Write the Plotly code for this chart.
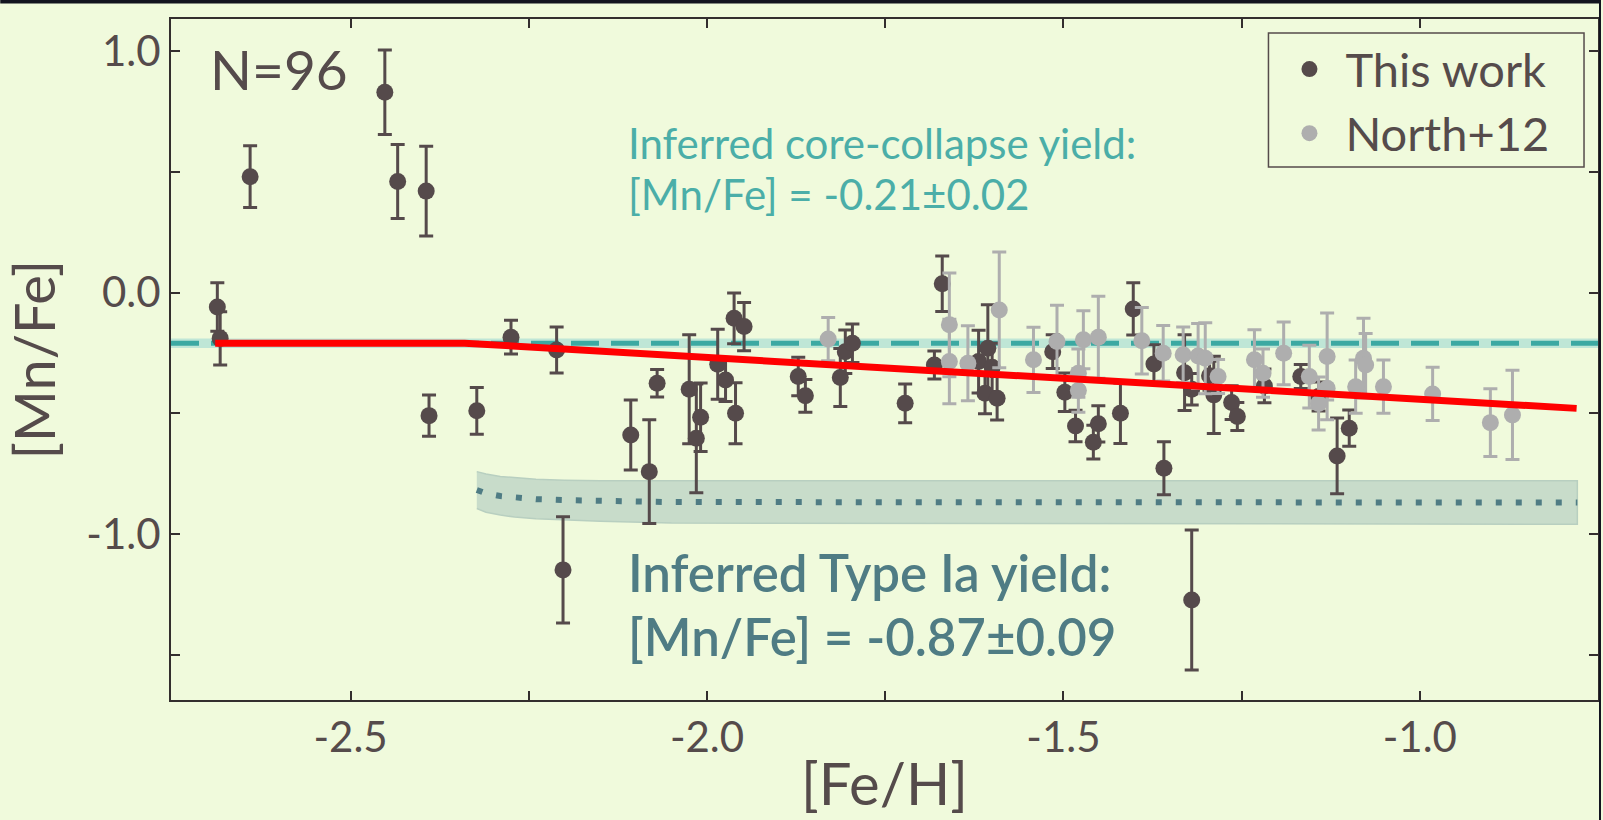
import plotly.graph_objects as go

# ---- "This work" stars: [Fe/H], [Mn/Fe], 1-sigma error ----
feh_this = [-2.687, -2.683, -2.641, -2.452, -2.434, -2.394, -2.390, -2.323,
            -2.275, -2.211, -2.202, -2.107, -2.081, -2.070, -2.025, -2.015,
            -2.009, -1.985, -1.974, -1.962, -1.960, -1.948, -1.872, -1.862,
            -1.813, -1.806, -1.796, -1.722, -1.681, -1.670, -1.619, -1.610,
            -1.606, -1.600, -1.593, -1.515, -1.498, -1.483, -1.458, -1.451,
            -1.420, -1.402, -1.373, -1.359, -1.330, -1.320, -1.320, -1.295,
            -1.289, -1.264, -1.256, -1.218, -1.167, -1.142, -1.116, -1.099]
mnfe_this = [-0.06, -0.19, 0.48, 0.83, 0.46, 0.42, -0.51, -0.49,
             -0.185, -0.238, -1.149, -0.59, -0.742, -0.376, -0.401, -0.604,
             -0.517, -0.297, -0.362, -0.107, -0.500, -0.141, -0.348, -0.428,
             -0.352, -0.245, -0.21, -0.459, -0.300, 0.036, -0.286, -0.417,
             -0.231, -0.31, -0.438, -0.245, -0.413, -0.553, -0.620, -0.544,
             -0.500, -0.068, -0.296, -0.728, -0.332, -0.401, -1.274, -0.345,
             -0.424, -0.456, -0.514, -0.387, -0.348, -0.431, -0.677, -0.562]
err_this = [0.10, 0.11, 0.128, 0.175, 0.153, 0.186, 0.085, 0.097,
            0.07, 0.095, 0.22, 0.145, 0.215, 0.057, 0.226, 0.225,
            0.142, 0.145, 0.09, 0.105, 0.126, 0.10, 0.08, 0.068,
            0.12, 0.09, 0.08, 0.08, 0.058, 0.115, 0.13, 0.085,
            0.18, 0.10, 0.09, 0.07, 0.08, 0.065, 0.07, 0.075,
            0.125, 0.108, 0.08, 0.11, 0.157, 0.065, 0.29, 0.06,
            0.16, 0.07, 0.058, 0.07, 0.05, 0.06, 0.157, 0.075]

# ---- North et al. (2012) comparison sample ----
feh_north = [-1.830, -1.660, -1.660, -1.634, -1.590, -1.542, -1.509, -1.479,
             -1.479, -1.472, -1.451, -1.390, -1.360, -1.332, -1.311, -1.301,
             -1.283, -1.232, -1.220, -1.191, -1.155, -1.142, -1.130, -1.130,
             -1.090, -1.079, -1.076, -1.051, -0.982, -0.901, -0.870]
mnfe_north = [-0.193, -0.134, -0.286, -0.293, -0.072, -0.279, -0.203, -0.334,
              -0.406, -0.196, -0.185, -0.200, -0.252, -0.258, -0.263, -0.272,
              -0.348, -0.279, -0.334, -0.252, -0.348, -0.46, -0.265, -0.397,
              -0.390, -0.272, -0.30, -0.390, -0.420, -0.539, -0.507]
err_north = [0.09, 0.215, 0.175, 0.155, 0.24, 0.135, 0.15, 0.10,
             0.09, 0.12, 0.17, 0.138, 0.115, 0.115, 0.135, 0.147,
             0.07, 0.125, 0.10, 0.13, 0.13, 0.11, 0.18, 0.13,
             0.11, 0.165, 0.13, 0.11, 0.11, 0.14, 0.185]

n_stars = 96

# ---- inferred yields ----
cc_yield, cc_err = -0.21, 0.02
ia_yield, ia_err = -0.87, 0.09

# Type Ia yield track (median and band) as a function of [Fe/H]
ia_feh = [-2.323, -2.31, -2.29, -2.27, -2.24, -2.20, -2.15, -2.05, -0.779]
ia_mid = [-0.818, -0.832, -0.843, -0.850, -0.856, -0.860, -0.864, -0.868, -0.870]
ia_hi = [-0.742, -0.752, -0.762, -0.768, -0.774, -0.778, -0.780, -0.780, -0.780]
ia_lo = [-0.895, -0.910, -0.922, -0.930, -0.937, -0.943, -0.948, -0.955, -0.960]

# best-fit chemical evolution track
fit_feh = [-2.69, -2.34, -0.78]
fit_mnfe = [-0.21, -0.21, -0.48]

# ---- axes ----
x_range = [-2.752, -0.750]
y_range = [-1.688, 1.133]
x_ticks = [-2.5, -2.25, -2.0, -1.75, -1.5, -1.25, -1.0]
x_ticklabels = ["-2.5", "", "-2.0", "", "-1.5", "", "-1.0"]
y_ticks = [-1.5, -1.0, -0.5, 0.0, 0.5, 1.0]
y_ticklabels = ["", "-1.0", "", "0.0", "", "1.0"]

BG = "#F0FADC"
INK = "#554B4B"
AXIS = "#332E2E"
DARK = "#554A4B"
GREY = "#AEAEAE"
TEAL = "#3CA9A2"
TEAL_TXT = "#4BAEA8"
IA = "#4F7C84"
EDGE = "#12141F"
FONT = "Lato"

W, H = 1603, 820
M = dict(l=171, r=3, t=19, b=120)
ph = H - M["t"] - M["b"]
pw = W - M["l"] - M["r"]


def px_x(p):
    """page pixel column -> paper x"""
    return (p - M["l"]) / pw


def px_y(p):
    """page pixel row -> paper y"""
    return 1 - (p - M["t"]) / ph


fig = go.Figure()

# Type Ia band and median
fig.add_trace(go.Scatter(
    x=ia_feh + ia_feh[::-1], y=ia_hi + ia_lo[::-1],
    fill="toself", fillcolor="rgb(200,220,202)",
    line=dict(color="rgb(184,207,192)", width=1.5),
    mode="lines", hoverinfo="skip", showlegend=False))
fig.add_trace(go.Scatter(
    x=ia_feh, y=ia_mid, mode="lines",
    line=dict(color=IA, width=6, dash="6px,14px"),
    hoverinfo="skip", showlegend=False))

# stars
fig.add_trace(go.Scatter(
    x=feh_this, y=mnfe_this, mode="markers", name="This work",
    marker=dict(color=DARK, size=17),
    error_y=dict(type="data", array=err_this, color=DARK, thickness=3, width=7)))
fig.add_trace(go.Scatter(
    x=feh_north, y=mnfe_north, mode="markers", name="North+12",
    marker=dict(color=GREY, size=17),
    error_y=dict(type="data", array=err_north, color=GREY, thickness=3, width=7)))

# best fit
fig.add_trace(go.Scatter(
    x=fit_feh, y=fit_mnfe, mode="lines",
    line=dict(color="#FF0000", width=7),
    hoverinfo="skip", showlegend=False))

# core-collapse yield band + dashed line across the whole panel
fig.add_shape(type="rect", xref="paper", x0=0, x1=1, yref="y",
              y0=cc_yield - cc_err, y1=cc_yield + cc_err,
              fillcolor="#BFE6D6", line_width=0, layer="below")
fig.add_shape(type="line", xref="paper", x0=0, x1=1, yref="y",
              y0=cc_yield, y1=cc_yield,
              line=dict(color=TEAL, width=5, dash="28px,12px"), layer="below")

# legend frame
fig.add_shape(type="rect", xref="paper", yref="paper",
              x0=px_x(1270), x1=px_x(1586), y0=px_y(167), y1=px_y(33),
              fillcolor=BG, line=dict(color=INK, width=1.5), layer="above")

# dark page edges along the top and right
fig.add_shape(type="rect", xref="paper", yref="paper",
              x0=px_x(0), x1=px_x(W), y0=px_y(3.5), y1=px_y(0),
              fillcolor=EDGE, line_width=0, layer="above")
fig.add_shape(type="rect", xref="paper", yref="paper",
              x0=px_x(1601), x1=px_x(W), y0=px_y(H), y1=px_y(0),
              fillcolor=EDGE, line_width=0, layer="above")

# text labels
fig.add_annotation(x=-2.114, y=0.619, xref="x", yref="y", xanchor="left", yanchor="middle",
                   text="Inferred core-collapse yield:", showarrow=False,
                   font=dict(family=FONT, size=42, color=TEAL_TXT))
fig.add_annotation(x=-2.114, y=0.407, xref="x", yref="y", xanchor="left", yanchor="middle",
                   text=f"[Mn/Fe] = {cc_yield:.2f}±{cc_err:.2f}", showarrow=False,
                   font=dict(family=FONT, size=42, color=TEAL_TXT))
fig.add_annotation(x=-2.114, y=-1.160, xref="x", yref="y", xanchor="left", yanchor="middle",
                   text="Inferred Type Ia yield:", showarrow=False,
                   font=dict(family=FONT, size=51, color=IA, weight=600))
fig.add_annotation(x=-2.114, y=-1.425, xref="x", yref="y", xanchor="left", yanchor="middle",
                   text=f"[Mn/Fe] = {ia_yield:.2f}±{ia_err:.2f}", showarrow=False,
                   font=dict(family=FONT, size=51, color=IA, weight=600))
fig.add_annotation(x=-2.700, y=0.926, xref="x", yref="y", xanchor="left", yanchor="middle",
                   text=f"N={n_stars}", showarrow=False,
                   font=dict(family=FONT, size=55, color=INK))

axis_common = dict(showline=True, linecolor=AXIS, linewidth=2, mirror="ticks",
                   ticks="inside", ticklen=9, tickwidth=2, tickcolor=AXIS,
                   showgrid=False, zeroline=False,
                   tickfont=dict(family=FONT, size=42, color=INK))

fig.update_xaxes(range=x_range, tickvals=x_ticks, ticktext=x_ticklabels,
                 title=dict(text="[Fe/H]", font=dict(family=FONT, size=58, color=INK), standoff=4),
                 **axis_common)
fig.update_yaxes(range=y_range, tickvals=y_ticks, ticktext=y_ticklabels,
                 title=dict(text="[Mn/Fe]", font=dict(family=FONT, size=56, color=INK), standoff=14),
                 **axis_common)

fig.update_layout(
    width=W, height=H, margin=M,
    paper_bgcolor=BG, plot_bgcolor=BG,
    legend=dict(x=px_x(1275), y=px_y(32),
                xanchor="left", yanchor="top",
                bgcolor="rgba(0,0,0,0)", borderwidth=0, itemwidth=62,
                font=dict(family=FONT, size=47, color=INK)),
)

fig.write_html("out.html")
